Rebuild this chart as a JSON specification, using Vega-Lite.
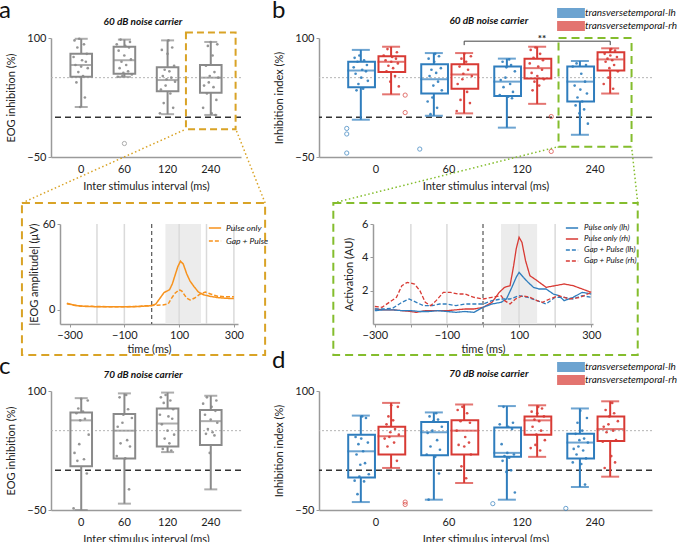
{
"$schema":"https://vega.github.io/schema/vega-lite/v6.json",
"background":"white",
"padding":{"left":-1,"top":-1,"right":0,"bottom":0},
"config":{"font":"Lato","view":{"stroke":null},
"axis":{"labelFont":"Lato","titleFont":"Lato","labelFontSize":11,"titleFontSize":11,"titleFontWeight":"normal","labelColor":"#222","titleColor":"#222","domainColor":"#9a9a9a","domainWidth":1.5,"tickColor":"#9a9a9a","tickSize":3,"grid":false},
"title":{"font":"Lato","fontSize":24,"fontWeight":"normal","anchor":"start","frame":"group","color":"#111"},
"legend":{"labelFont":"Lato","labelColor":"#111"},"text":{"font":"Lato"}},
"datasets":{
"boxA":[{"isi":"0","lo":13,"q1":51,"med":66,"q3":80,"hi":99},{"isi":"60","lo":51,"q1":55,"med":72,"q3":89,"hi":98},{"isi":"120","lo":4,"q1":33,"med":47,"q3":63,"hi":97},{"isi":"240","lo":3,"q1":31,"med":50,"q3":66,"hi":95}],
"outA":[{"isi":"60","v":-33}],
"ptsA":[{"isi":"0","k":7,"v":99},{"isi":"0","k":2,"v":97},{"isi":"0","k":12,"v":92},{"isi":"0","k":5,"v":88},{"isi":"0","k":15,"v":80},{"isi":"0","k":1,"v":76},{"isi":"0","k":10,"v":72},{"isi":"0","k":14,"v":70},{"isi":"0","k":3,"v":66},{"isi":"0","k":9,"v":64},{"isi":"0","k":16,"v":62},{"isi":"0","k":6,"v":57},{"isi":"0","k":11,"v":52},{"isi":"0","k":4,"v":44},{"isi":"0","k":13,"v":25},{"isi":"0","k":8,"v":13},
{"isi":"60","k":5,"v":98},{"isi":"60","k":15,"v":95},{"isi":"60","k":1,"v":92},{"isi":"60","k":10,"v":90},{"isi":"60","k":14,"v":88},{"isi":"60","k":3,"v":84},{"isi":"60","k":9,"v":78},{"isi":"60","k":16,"v":73},{"isi":"60","k":6,"v":70},{"isi":"60","k":11,"v":66},{"isi":"60","k":4,"v":62},{"isi":"60","k":13,"v":58},{"isi":"60","k":8,"v":56},{"isi":"60","k":17,"v":54},{"isi":"60","k":7,"v":52},{"isi":"60","k":2,"v":51},
{"isi":"120","k":10,"v":97},{"isi":"120","k":14,"v":88},{"isi":"120","k":3,"v":85},{"isi":"120","k":9,"v":80},{"isi":"120","k":16,"v":65},{"isi":"120","k":6,"v":60},{"isi":"120","k":11,"v":58},{"isi":"120","k":4,"v":52},{"isi":"120","k":13,"v":50},{"isi":"120","k":8,"v":48},{"isi":"120","k":17,"v":45},{"isi":"120","k":7,"v":40},{"isi":"120","k":2,"v":35},{"isi":"120","k":12,"v":30},{"isi":"120","k":5,"v":18},{"isi":"120","k":15,"v":12},{"isi":"120","k":1,"v":5},
{"isi":"240","k":9,"v":95},{"isi":"240","k":16,"v":92},{"isi":"240","k":6,"v":90},{"isi":"240","k":11,"v":78},{"isi":"240","k":4,"v":65},{"isi":"240","k":13,"v":57},{"isi":"240","k":8,"v":52},{"isi":"240","k":17,"v":50},{"isi":"240","k":7,"v":44},{"isi":"240","k":2,"v":40},{"isi":"240","k":12,"v":38},{"isi":"240","k":5,"v":30},{"isi":"240","k":15,"v":22},{"isi":"240","k":1,"v":12},{"isi":"240","k":10,"v":5},{"isi":"240","k":14,"v":3}],
"boxB":[{"isi":"0","hemi":"lh","lo":-3,"q1":38,"med":59,"q3":70,"hi":85},{"isi":"0","hemi":"rh","lo":29,"q1":57,"med":70,"q3":77,"hi":89},{"isi":"60","hemi":"lh","lo":2,"q1":30,"med":48,"q3":67,"hi":81},{"isi":"60","hemi":"rh","lo":5,"q1":36,"med":54,"q3":67,"hi":81},{"isi":"120","hemi":"lh","lo":-13,"q1":27,"med":45,"q3":64,"hi":74},{"isi":"120","hemi":"rh","lo":17,"q1":49,"med":62,"q3":74,"hi":89},{"isi":"240","hemi":"lh","lo":-22,"q1":20,"med":45,"q3":64,"hi":71},{"isi":"240","hemi":"rh","lo":30,"q1":59,"med":73,"q3":82,"hi":87}],
"outB":[{"isi":"0","hemi":"lh","v":-14},{"isi":"0","hemi":"lh","v":-21},{"isi":"0","hemi":"lh","v":-45},{"isi":"0","hemi":"rh","v":28},{"isi":"0","hemi":"rh","v":6},{"isi":"60","hemi":"lh","v":-40},{"isi":"120","hemi":"rh","v":1},{"isi":"120","hemi":"rh","v":-43}],
"ptsB":[{"isi":"0","hemi":"lh","k":7,"v":78},{"isi":"0","hemi":"lh","k":2,"v":75},{"isi":"0","hemi":"lh","k":12,"v":72},{"isi":"0","hemi":"lh","k":5,"v":70},{"isi":"0","hemi":"lh","k":15,"v":66},{"isi":"0","hemi":"lh","k":1,"v":63},{"isi":"0","hemi":"lh","k":10,"v":60},{"isi":"0","hemi":"lh","k":14,"v":58},{"isi":"0","hemi":"lh","k":3,"v":55},{"isi":"0","hemi":"lh","k":9,"v":50},{"isi":"0","hemi":"lh","k":16,"v":46},{"isi":"0","hemi":"lh","k":6,"v":42},{"isi":"0","hemi":"lh","k":11,"v":36},{"isi":"0","hemi":"lh","k":4,"v":34},
{"isi":"0","hemi":"rh","k":5,"v":86},{"isi":"0","hemi":"rh","k":15,"v":82},{"isi":"0","hemi":"rh","k":1,"v":78},{"isi":"0","hemi":"rh","k":10,"v":76},{"isi":"0","hemi":"rh","k":14,"v":74},{"isi":"0","hemi":"rh","k":3,"v":72},{"isi":"0","hemi":"rh","k":9,"v":70},{"isi":"0","hemi":"rh","k":16,"v":68},{"isi":"0","hemi":"rh","k":6,"v":65},{"isi":"0","hemi":"rh","k":11,"v":62},{"isi":"0","hemi":"rh","k":4,"v":58},{"isi":"0","hemi":"rh","k":13,"v":52},{"isi":"0","hemi":"rh","k":8,"v":45},{"isi":"0","hemi":"rh","k":17,"v":39},
{"isi":"60","hemi":"lh","k":10,"v":80},{"isi":"60","hemi":"lh","k":14,"v":77},{"isi":"60","hemi":"lh","k":3,"v":74},{"isi":"60","hemi":"lh","k":9,"v":70},{"isi":"60","hemi":"lh","k":16,"v":62},{"isi":"60","hemi":"lh","k":6,"v":60},{"isi":"60","hemi":"lh","k":11,"v":56},{"isi":"60","hemi":"lh","k":4,"v":52},{"isi":"60","hemi":"lh","k":13,"v":45},{"isi":"60","hemi":"lh","k":8,"v":40},{"isi":"60","hemi":"lh","k":17,"v":34},{"isi":"60","hemi":"lh","k":7,"v":25},{"isi":"60","hemi":"lh","k":2,"v":20},{"isi":"60","hemi":"lh","k":12,"v":12},{"isi":"60","hemi":"lh","k":5,"v":4},
{"isi":"60","hemi":"rh","k":9,"v":80},{"isi":"60","hemi":"rh","k":16,"v":77},{"isi":"60","hemi":"rh","k":6,"v":74},{"isi":"60","hemi":"rh","k":11,"v":70},{"isi":"60","hemi":"rh","k":4,"v":64},{"isi":"60","hemi":"rh","k":13,"v":60},{"isi":"60","hemi":"rh","k":8,"v":55},{"isi":"60","hemi":"rh","k":17,"v":52},{"isi":"60","hemi":"rh","k":7,"v":48},{"isi":"60","hemi":"rh","k":2,"v":42},{"isi":"60","hemi":"rh","k":12,"v":32},{"isi":"60","hemi":"rh","k":5,"v":22},{"isi":"60","hemi":"rh","k":15,"v":18},{"isi":"60","hemi":"rh","k":1,"v":8},
{"isi":"120","hemi":"lh","k":11,"v":73},{"isi":"120","hemi":"lh","k":4,"v":70},{"isi":"120","hemi":"lh","k":13,"v":66},{"isi":"120","hemi":"lh","k":8,"v":63},{"isi":"120","hemi":"lh","k":17,"v":58},{"isi":"120","hemi":"lh","k":7,"v":50},{"isi":"120","hemi":"lh","k":2,"v":47},{"isi":"120","hemi":"lh","k":12,"v":42},{"isi":"120","hemi":"lh","k":5,"v":38},{"isi":"120","hemi":"lh","k":15,"v":32},{"isi":"120","hemi":"lh","k":1,"v":28},{"isi":"120","hemi":"lh","k":10,"v":26},{"isi":"120","hemi":"lh","k":14,"v":24},
{"isi":"120","hemi":"rh","k":7,"v":88},{"isi":"120","hemi":"rh","k":2,"v":85},{"isi":"120","hemi":"rh","k":12,"v":80},{"isi":"120","hemi":"rh","k":5,"v":75},{"isi":"120","hemi":"rh","k":15,"v":72},{"isi":"120","hemi":"rh","k":1,"v":68},{"isi":"120","hemi":"rh","k":10,"v":64},{"isi":"120","hemi":"rh","k":14,"v":60},{"isi":"120","hemi":"rh","k":3,"v":56},{"isi":"120","hemi":"rh","k":9,"v":52},{"isi":"120","hemi":"rh","k":16,"v":48},{"isi":"120","hemi":"rh","k":6,"v":45},{"isi":"120","hemi":"rh","k":11,"v":40},{"isi":"120","hemi":"rh","k":4,"v":34},
{"isi":"240","hemi":"lh","k":5,"v":68},{"isi":"240","hemi":"lh","k":15,"v":66},{"isi":"240","hemi":"lh","k":1,"v":64},{"isi":"240","hemi":"lh","k":10,"v":55},{"isi":"240","hemi":"lh","k":14,"v":45},{"isi":"240","hemi":"lh","k":3,"v":40},{"isi":"240","hemi":"lh","k":9,"v":35},{"isi":"240","hemi":"lh","k":16,"v":30},{"isi":"240","hemi":"lh","k":6,"v":25},{"isi":"240","hemi":"lh","k":11,"v":20},{"isi":"240","hemi":"lh","k":4,"v":15},{"isi":"240","hemi":"lh","k":13,"v":10},{"isi":"240","hemi":"lh","k":8,"v":5},{"isi":"240","hemi":"lh","k":17,"v":-8},
{"isi":"240","hemi":"rh","k":10,"v":86},{"isi":"240","hemi":"rh","k":14,"v":84},{"isi":"240","hemi":"rh","k":3,"v":80},{"isi":"240","hemi":"rh","k":9,"v":78},{"isi":"240","hemi":"rh","k":16,"v":76},{"isi":"240","hemi":"rh","k":6,"v":74},{"isi":"240","hemi":"rh","k":11,"v":72},{"isi":"240","hemi":"rh","k":4,"v":70},{"isi":"240","hemi":"rh","k":13,"v":66},{"isi":"240","hemi":"rh","k":8,"v":62},{"isi":"240","hemi":"rh","k":17,"v":58},{"isi":"240","hemi":"rh","k":7,"v":50},{"isi":"240","hemi":"rh","k":2,"v":42},{"isi":"240","hemi":"rh","k":12,"v":36}],
"boxC":[{"isi":"0","lo":-50,"q1":5,"med":63,"q3":73,"hi":91},{"isi":"60","lo":-42,"q1":15,"med":50,"q3":71,"hi":97},{"isi":"120","lo":23,"q1":30,"med":59,"q3":78,"hi":98},{"isi":"240","lo":-24,"q1":32,"med":62,"q3":76,"hi":94}],
"ptsC":[{"isi":"0","k":9,"v":90},{"isi":"0","k":16,"v":88},{"isi":"0","k":6,"v":78},{"isi":"0","k":11,"v":74},{"isi":"0","k":4,"v":72},{"isi":"0","k":13,"v":65},{"isi":"0","k":8,"v":63},{"isi":"0","k":17,"v":45},{"isi":"0","k":7,"v":33},{"isi":"0","k":2,"v":22},{"isi":"0","k":12,"v":14},{"isi":"0","k":5,"v":12},{"isi":"0","k":15,"v":-4},{"isi":"0","k":1,"v":-48},
{"isi":"60","k":11,"v":95},{"isi":"60","k":4,"v":92},{"isi":"60","k":13,"v":77},{"isi":"60","k":8,"v":70},{"isi":"60","k":17,"v":66},{"isi":"60","k":7,"v":60},{"isi":"60","k":2,"v":55},{"isi":"60","k":12,"v":38},{"isi":"60","k":5,"v":34},{"isi":"60","k":15,"v":30},{"isi":"60","k":1,"v":18},{"isi":"60","k":10,"v":15},{"isi":"60","k":14,"v":-24},
{"isi":"120","k":7,"v":95},{"isi":"120","k":2,"v":92},{"isi":"120","k":12,"v":88},{"isi":"120","k":5,"v":85},{"isi":"120","k":15,"v":77},{"isi":"120","k":1,"v":70},{"isi":"120","k":10,"v":68},{"isi":"120","k":14,"v":65},{"isi":"120","k":3,"v":58},{"isi":"120","k":9,"v":50},{"isi":"120","k":16,"v":45},{"isi":"120","k":6,"v":40},{"isi":"120","k":11,"v":34},{"isi":"120","k":4,"v":27},{"isi":"120","k":13,"v":25},
{"isi":"240","k":5,"v":92},{"isi":"240","k":15,"v":88},{"isi":"240","k":1,"v":84},{"isi":"240","k":10,"v":80},{"isi":"240","k":14,"v":75},{"isi":"240","k":3,"v":70},{"isi":"240","k":9,"v":64},{"isi":"240","k":16,"v":60},{"isi":"240","k":6,"v":52},{"isi":"240","k":11,"v":48},{"isi":"240","k":4,"v":46},{"isi":"240","k":13,"v":44},{"isi":"240","k":8,"v":22}],
"boxD":[{"isi":"0","hemi":"lh","lo":-40,"q1":-9,"med":24,"q3":45,"hi":69},{"isi":"0","hemi":"rh","lo":3,"q1":20,"med":43,"q3":55,"hi":85},{"isi":"60","hemi":"lh","lo":-37,"q1":19,"med":48,"q3":61,"hi":73},{"isi":"60","hemi":"rh","lo":-16,"q1":20,"med":50,"q3":63,"hi":83},{"isi":"120","hemi":"lh","lo":-37,"q1":17,"med":22,"q3":54,"hi":81},{"isi":"120","hemi":"rh","lo":17,"q1":45,"med":63,"q3":68,"hi":82},{"isi":"240","hemi":"lh","lo":-21,"q1":15,"med":35,"q3":46,"hi":78},{"isi":"240","hemi":"rh","lo":-8,"q1":37,"med":52,"q3":68,"hi":87}],
"outD":[{"isi":"0","hemi":"rh","v":-40},{"isi":"0","hemi":"rh","v":-43},{"isi":"120","hemi":"lh","v":-42},{"isi":"240","hemi":"lh","v":-48}],
"ptsD":[{"isi":"0","hemi":"lh","k":10,"v":68},{"isi":"0","hemi":"lh","k":14,"v":66},{"isi":"0","hemi":"lh","k":3,"v":42},{"isi":"0","hemi":"lh","k":9,"v":40},{"isi":"0","hemi":"lh","k":16,"v":35},{"isi":"0","hemi":"lh","k":6,"v":33},{"isi":"0","hemi":"lh","k":11,"v":24},{"isi":"0","hemi":"lh","k":4,"v":20},{"isi":"0","hemi":"lh","k":13,"v":9},{"isi":"0","hemi":"lh","k":8,"v":7},{"isi":"0","hemi":"lh","k":17,"v":-5},{"isi":"0","hemi":"lh","k":7,"v":-8},{"isi":"0","hemi":"lh","k":2,"v":-13},{"isi":"0","hemi":"lh","k":12,"v":-14},{"isi":"0","hemi":"lh","k":5,"v":-30},
{"isi":"0","hemi":"rh","k":9,"v":82},{"isi":"0","hemi":"rh","k":16,"v":80},{"isi":"0","hemi":"rh","k":6,"v":68},{"isi":"0","hemi":"rh","k":11,"v":63},{"isi":"0","hemi":"rh","k":4,"v":58},{"isi":"0","hemi":"rh","k":13,"v":52},{"isi":"0","hemi":"rh","k":8,"v":48},{"isi":"0","hemi":"rh","k":17,"v":45},{"isi":"0","hemi":"rh","k":7,"v":42},{"isi":"0","hemi":"rh","k":2,"v":40},{"isi":"0","hemi":"rh","k":12,"v":35},{"isi":"0","hemi":"rh","k":5,"v":30},{"isi":"0","hemi":"rh","k":15,"v":12},
{"isi":"60","hemi":"lh","k":11,"v":72},{"isi":"60","hemi":"lh","k":4,"v":68},{"isi":"60","hemi":"lh","k":13,"v":64},{"isi":"60","hemi":"lh","k":8,"v":62},{"isi":"60","hemi":"lh","k":17,"v":55},{"isi":"60","hemi":"lh","k":7,"v":50},{"isi":"60","hemi":"lh","k":2,"v":47},{"isi":"60","hemi":"lh","k":12,"v":38},{"isi":"60","hemi":"lh","k":5,"v":30},{"isi":"60","hemi":"lh","k":15,"v":26},{"isi":"60","hemi":"lh","k":1,"v":20},{"isi":"60","hemi":"lh","k":10,"v":17},{"isi":"60","hemi":"lh","k":14,"v":-4},{"isi":"60","hemi":"lh","k":3,"v":-37},
{"isi":"60","hemi":"rh","k":7,"v":80},{"isi":"60","hemi":"rh","k":2,"v":76},{"isi":"60","hemi":"rh","k":12,"v":72},{"isi":"60","hemi":"rh","k":5,"v":62},{"isi":"60","hemi":"rh","k":15,"v":60},{"isi":"60","hemi":"rh","k":1,"v":50},{"isi":"60","hemi":"rh","k":10,"v":42},{"isi":"60","hemi":"rh","k":14,"v":35},{"isi":"60","hemi":"rh","k":3,"v":32},{"isi":"60","hemi":"rh","k":9,"v":30},{"isi":"60","hemi":"rh","k":16,"v":20},{"isi":"60","hemi":"rh","k":6,"v":5},{"isi":"60","hemi":"rh","k":11,"v":-10},
{"isi":"120","hemi":"lh","k":5,"v":80},{"isi":"120","hemi":"lh","k":15,"v":60},{"isi":"120","hemi":"lh","k":1,"v":58},{"isi":"120","hemi":"lh","k":10,"v":55},{"isi":"120","hemi":"lh","k":14,"v":52},{"isi":"120","hemi":"lh","k":3,"v":33},{"isi":"120","hemi":"lh","k":9,"v":22},{"isi":"120","hemi":"lh","k":16,"v":20},{"isi":"120","hemi":"lh","k":6,"v":18},{"isi":"120","hemi":"lh","k":11,"v":16},{"isi":"120","hemi":"lh","k":4,"v":12},{"isi":"120","hemi":"lh","k":13,"v":0},{"isi":"120","hemi":"lh","k":8,"v":-2},{"isi":"120","hemi":"lh","k":17,"v":-28},
{"isi":"120","hemi":"rh","k":10,"v":80},{"isi":"120","hemi":"rh","k":14,"v":78},{"isi":"120","hemi":"rh","k":3,"v":74},{"isi":"120","hemi":"rh","k":9,"v":72},{"isi":"120","hemi":"rh","k":16,"v":68},{"isi":"120","hemi":"rh","k":6,"v":64},{"isi":"120","hemi":"rh","k":11,"v":62},{"isi":"120","hemi":"rh","k":4,"v":55},{"isi":"120","hemi":"rh","k":13,"v":50},{"isi":"120","hemi":"rh","k":8,"v":45},{"isi":"120","hemi":"rh","k":17,"v":38},{"isi":"120","hemi":"rh","k":7,"v":32},{"isi":"120","hemi":"rh","k":2,"v":28},{"isi":"120","hemi":"rh","k":12,"v":25},
{"isi":"240","hemi":"lh","k":9,"v":75},{"isi":"240","hemi":"lh","k":16,"v":66},{"isi":"240","hemi":"lh","k":6,"v":60},{"isi":"240","hemi":"lh","k":11,"v":50},{"isi":"240","hemi":"lh","k":4,"v":46},{"isi":"240","hemi":"lh","k":13,"v":40},{"isi":"240","hemi":"lh","k":8,"v":38},{"isi":"240","hemi":"lh","k":17,"v":35},{"isi":"240","hemi":"lh","k":7,"v":30},{"isi":"240","hemi":"lh","k":2,"v":27},{"isi":"240","hemi":"lh","k":12,"v":25},{"isi":"240","hemi":"lh","k":5,"v":20},{"isi":"240","hemi":"lh","k":15,"v":15},{"isi":"240","hemi":"lh","k":1,"v":10},{"isi":"240","hemi":"lh","k":10,"v":8},{"isi":"240","hemi":"lh","k":14,"v":-18},
{"isi":"240","hemi":"rh","k":11,"v":85},{"isi":"240","hemi":"rh","k":4,"v":76},{"isi":"240","hemi":"rh","k":13,"v":72},{"isi":"240","hemi":"rh","k":8,"v":68},{"isi":"240","hemi":"rh","k":17,"v":62},{"isi":"240","hemi":"rh","k":7,"v":58},{"isi":"240","hemi":"rh","k":2,"v":55},{"isi":"240","hemi":"rh","k":12,"v":50},{"isi":"240","hemi":"rh","k":5,"v":48},{"isi":"240","hemi":"rh","k":15,"v":38},{"isi":"240","hemi":"rh","k":1,"v":36},{"isi":"240","hemi":"rh","k":10,"v":18},{"isi":"240","hemi":"rh","k":14,"v":10},{"isi":"240","hemi":"rh","k":3,"v":3}],
"insA":[{"c":"Pulse only","t":-310,"v":4.5},{"c":"Pulse only","t":-290,"v":3.5},{"c":"Pulse only","t":-270,"v":2.8},{"c":"Pulse only","t":-240,"v":2.3},{"c":"Pulse only","t":-200,"v":2.1},{"c":"Pulse only","t":-150,"v":2},{"c":"Pulse only","t":-100,"v":2},{"c":"Pulse only","t":-50,"v":2.2},{"c":"Pulse only","t":-20,"v":2.6},{"c":"Pulse only","t":0,"v":2.8},{"c":"Pulse only","t":15,"v":4},{"c":"Pulse only","t":30,"v":8},{"c":"Pulse only","t":45,"v":12},{"c":"Pulse only","t":55,"v":13},{"c":"Pulse only","t":65,"v":14},{"c":"Pulse only","t":75,"v":18},{"c":"Pulse only","t":85,"v":24},{"c":"Pulse only","t":95,"v":30},{"c":"Pulse only","t":105,"v":34},{"c":"Pulse only","t":115,"v":32},{"c":"Pulse only","t":128,"v":25},{"c":"Pulse only","t":140,"v":20},{"c":"Pulse only","t":155,"v":16},{"c":"Pulse only","t":170,"v":12.5},{"c":"Pulse only","t":190,"v":10.4},{"c":"Pulse only","t":210,"v":9.5},{"c":"Pulse only","t":240,"v":8.5},{"c":"Pulse only","t":270,"v":8},{"c":"Pulse only","t":300,"v":7.8},
{"c":"Gap + Pulse","t":-310,"v":4.2},{"c":"Gap + Pulse","t":-290,"v":3.3},{"c":"Gap + Pulse","t":-270,"v":2.6},{"c":"Gap + Pulse","t":-240,"v":2.4},{"c":"Gap + Pulse","t":-200,"v":2.3},{"c":"Gap + Pulse","t":-150,"v":2.1},{"c":"Gap + Pulse","t":-100,"v":2.1},{"c":"Gap + Pulse","t":-50,"v":2.3},{"c":"Gap + Pulse","t":-20,"v":2.7},{"c":"Gap + Pulse","t":0,"v":3},{"c":"Gap + Pulse","t":20,"v":3.2},{"c":"Gap + Pulse","t":40,"v":3.3},{"c":"Gap + Pulse","t":60,"v":4},{"c":"Gap + Pulse","t":72,"v":8},{"c":"Gap + Pulse","t":85,"v":11.5},{"c":"Gap + Pulse","t":100,"v":14},{"c":"Gap + Pulse","t":110,"v":13},{"c":"Gap + Pulse","t":128,"v":8},{"c":"Gap + Pulse","t":140,"v":6.8},{"c":"Gap + Pulse","t":155,"v":8},{"c":"Gap + Pulse","t":177,"v":11},{"c":"Gap + Pulse","t":196,"v":12.3},{"c":"Gap + Pulse","t":215,"v":11},{"c":"Gap + Pulse","t":240,"v":9.5},{"c":"Gap + Pulse","t":270,"v":9},{"c":"Gap + Pulse","t":300,"v":9}],
"insB":[{"c":"Pulse only (rh)","t":-300,"v":0.9},{"c":"Pulse only (rh)","t":-275,"v":0.85},{"c":"Pulse only (rh)","t":-250,"v":0.85},{"c":"Pulse only (rh)","t":-225,"v":0.8},{"c":"Pulse only (rh)","t":-200,"v":0.75},{"c":"Pulse only (rh)","t":-185,"v":0.7},{"c":"Pulse only (rh)","t":-160,"v":0.8},{"c":"Pulse only (rh)","t":-125,"v":0.8},{"c":"Pulse only (rh)","t":-100,"v":0.8},{"c":"Pulse only (rh)","t":-75,"v":0.85},{"c":"Pulse only (rh)","t":-50,"v":0.9},{"c":"Pulse only (rh)","t":-25,"v":0.9},{"c":"Pulse only (rh)","t":0,"v":1.0},{"c":"Pulse only (rh)","t":25,"v":1.3},{"c":"Pulse only (rh)","t":45,"v":1.9},{"c":"Pulse only (rh)","t":60,"v":2.2},{"c":"Pulse only (rh)","t":75,"v":2.3},{"c":"Pulse only (rh)","t":85,"v":3.5},{"c":"Pulse only (rh)","t":92,"v":4.5},{"c":"Pulse only (rh)","t":100,"v":5.2},{"c":"Pulse only (rh)","t":108,"v":4.9},{"c":"Pulse only (rh)","t":118,"v":3.8},{"c":"Pulse only (rh)","t":130,"v":2.9},{"c":"Pulse only (rh)","t":150,"v":2.6},{"c":"Pulse only (rh)","t":175,"v":2.2},{"c":"Pulse only (rh)","t":200,"v":2.3},{"c":"Pulse only (rh)","t":225,"v":2.4},{"c":"Pulse only (rh)","t":250,"v":2.3},{"c":"Pulse only (rh)","t":275,"v":2.1},{"c":"Pulse only (rh)","t":300,"v":1.9},
{"c":"Pulse only (lh)","t":-300,"v":0.8},{"c":"Pulse only (lh)","t":-275,"v":0.85},{"c":"Pulse only (lh)","t":-250,"v":0.85},{"c":"Pulse only (lh)","t":-225,"v":0.8},{"c":"Pulse only (lh)","t":-200,"v":0.8},{"c":"Pulse only (lh)","t":-175,"v":0.75},{"c":"Pulse only (lh)","t":-150,"v":0.75},{"c":"Pulse only (lh)","t":-125,"v":0.8},{"c":"Pulse only (lh)","t":-100,"v":0.75},{"c":"Pulse only (lh)","t":-75,"v":0.7},{"c":"Pulse only (lh)","t":-50,"v":0.75},{"c":"Pulse only (lh)","t":-25,"v":0.7},{"c":"Pulse only (lh)","t":0,"v":1.0},{"c":"Pulse only (lh)","t":25,"v":1.2},{"c":"Pulse only (lh)","t":50,"v":1.3},{"c":"Pulse only (lh)","t":65,"v":1.5},{"c":"Pulse only (lh)","t":80,"v":2.2},{"c":"Pulse only (lh)","t":92,"v":2.8},{"c":"Pulse only (lh)","t":100,"v":3.1},{"c":"Pulse only (lh)","t":112,"v":2.8},{"c":"Pulse only (lh)","t":125,"v":2.5},{"c":"Pulse only (lh)","t":140,"v":2.2},{"c":"Pulse only (lh)","t":155,"v":2.1},{"c":"Pulse only (lh)","t":175,"v":2.1},{"c":"Pulse only (lh)","t":195,"v":1.8},{"c":"Pulse only (lh)","t":210,"v":1.7},{"c":"Pulse only (lh)","t":225,"v":1.4},{"c":"Pulse only (lh)","t":250,"v":1.6},{"c":"Pulse only (lh)","t":275,"v":1.9},{"c":"Pulse only (lh)","t":300,"v":1.8},
{"c":"Gap + Pulse (lh)","t":-300,"v":0.9},{"c":"Gap + Pulse (lh)","t":-275,"v":0.9},{"c":"Gap + Pulse (lh)","t":-250,"v":0.95},{"c":"Gap + Pulse (lh)","t":-225,"v":1.3},{"c":"Gap + Pulse (lh)","t":-205,"v":1.5},{"c":"Gap + Pulse (lh)","t":-185,"v":1.3},{"c":"Gap + Pulse (lh)","t":-165,"v":1.1},{"c":"Gap + Pulse (lh)","t":-140,"v":1.1},{"c":"Gap + Pulse (lh)","t":-120,"v":1.2},{"c":"Gap + Pulse (lh)","t":-100,"v":1.2},{"c":"Gap + Pulse (lh)","t":-75,"v":1.1},{"c":"Gap + Pulse (lh)","t":-50,"v":1.2},{"c":"Gap + Pulse (lh)","t":-25,"v":1.2},{"c":"Gap + Pulse (lh)","t":0,"v":1.2},{"c":"Gap + Pulse (lh)","t":25,"v":1.4},{"c":"Gap + Pulse (lh)","t":50,"v":1.5},{"c":"Gap + Pulse (lh)","t":75,"v":1.5},{"c":"Gap + Pulse (lh)","t":100,"v":1.7},{"c":"Gap + Pulse (lh)","t":125,"v":1.6},{"c":"Gap + Pulse (lh)","t":150,"v":1.4},{"c":"Gap + Pulse (lh)","t":175,"v":1.2},{"c":"Gap + Pulse (lh)","t":200,"v":1.6},{"c":"Gap + Pulse (lh)","t":225,"v":1.6},{"c":"Gap + Pulse (lh)","t":250,"v":1.5},{"c":"Gap + Pulse (lh)","t":275,"v":1.7},{"c":"Gap + Pulse (lh)","t":300,"v":1.6},
{"c":"Gap + Pulse (rh)","t":-300,"v":1.05},{"c":"Gap + Pulse (rh)","t":-280,"v":1.0},{"c":"Gap + Pulse (rh)","t":-260,"v":1.3},{"c":"Gap + Pulse (rh)","t":-240,"v":1.6},{"c":"Gap + Pulse (rh)","t":-225,"v":2.3},{"c":"Gap + Pulse (rh)","t":-210,"v":2.5},{"c":"Gap + Pulse (rh)","t":-190,"v":2.4},{"c":"Gap + Pulse (rh)","t":-175,"v":2.0},{"c":"Gap + Pulse (rh)","t":-160,"v":1.3},{"c":"Gap + Pulse (rh)","t":-145,"v":1.1},{"c":"Gap + Pulse (rh)","t":-130,"v":1.4},{"c":"Gap + Pulse (rh)","t":-110,"v":1.9},{"c":"Gap + Pulse (rh)","t":-90,"v":1.9},{"c":"Gap + Pulse (rh)","t":-70,"v":1.8},{"c":"Gap + Pulse (rh)","t":-50,"v":1.8},{"c":"Gap + Pulse (rh)","t":-25,"v":1.6},{"c":"Gap + Pulse (rh)","t":0,"v":1.5},{"c":"Gap + Pulse (rh)","t":25,"v":1.6},{"c":"Gap + Pulse (rh)","t":50,"v":1.7},{"c":"Gap + Pulse (rh)","t":60,"v":1.4},{"c":"Gap + Pulse (rh)","t":75,"v":1.2},{"c":"Gap + Pulse (rh)","t":90,"v":1.5},{"c":"Gap + Pulse (rh)","t":110,"v":1.7},{"c":"Gap + Pulse (rh)","t":130,"v":1.6},{"c":"Gap + Pulse (rh)","t":150,"v":1.4},{"c":"Gap + Pulse (rh)","t":165,"v":1.3},{"c":"Gap + Pulse (rh)","t":185,"v":1.5},{"c":"Gap + Pulse (rh)","t":210,"v":1.7},{"c":"Gap + Pulse (rh)","t":240,"v":1.5},{"c":"Gap + Pulse (rh)","t":270,"v":1.6},{"c":"Gap + Pulse (rh)","t":300,"v":1.9}],
"bracket":[{"isi":"60","o":1,"y":91},{"isi":"60","o":2,"y":96},{"isi":"240","o":3,"y":96},{"isi":"240","o":4,"y":91}]
},
"columns":2,
"spacing":{"row":67,"column":78},
"bounds":"flush",
"align":"each",
"resolve":{"scale":{"color":"independent","stroke":"independent","strokeDash":"independent"},"legend":{"color":"independent","stroke":"independent","strokeDash":"independent"}},
"concat":[
{"width":190,"height":119,"title":{"text":"a","dx":-52,"offset":-6},
"resolve":{"scale":{"xOffset":"independent"}},
"layer":[
{"data":{"values":[{}]},"mark":{"type":"rule","color":"#b5b5b5","strokeDash":[2,2],"strokeWidth":1},"encoding":{"y":{"datum":50,"type":"quantitative","scale":{"domain":[-50,100],"nice":false,"zero":false},"axis":{"values":[-50,0,50,100],"title":"EOG inhibition (%)","titlePadding":10}}}},
{"data":{"values":[{}]},"mark":{"type":"rule","color":"#333","strokeDash":[6,4],"strokeWidth":1.5},"encoding":{"y":{"datum":0,"type":"quantitative"}}},
{"data":{"name":"boxA"},"mark":{"type":"bar","filled":false,"color":"#8a8a8a","strokeWidth":2,"width":{"band":0.5}},"encoding":{"x":{"field":"isi","type":"nominal","scale":{"type":"band","domain":["0","60","120","240"],"paddingInner":0,"paddingOuter":0.2},"axis":{"title":"Inter stimulus interval (ms)","labelAngle":0,"ticks":false,"labelPadding":6,"titlePadding":6}},"y":{"field":"q1","type":"quantitative"},"y2":{"field":"q3"}}},
{"data":{"name":"boxA"},"mark":{"type":"rule","color":"#8a8a8a","strokeWidth":2},"encoding":{"x":{"field":"isi","type":"nominal"},"y":{"field":"lo","type":"quantitative"},"y2":{"field":"q1"}}},
{"data":{"name":"boxA"},"mark":{"type":"rule","color":"#8a8a8a","strokeWidth":2},"encoding":{"x":{"field":"isi","type":"nominal"},"y":{"field":"q3","type":"quantitative"},"y2":{"field":"hi"}}},
{"data":{"name":"boxA"},"mark":{"type":"tick","color":"#8a8a8a","thickness":2,"size":13},"encoding":{"x":{"field":"isi","type":"nominal"},"y":{"field":"lo","type":"quantitative"}}},
{"data":{"name":"boxA"},"mark":{"type":"tick","color":"#8a8a8a","thickness":2,"size":13},"encoding":{"x":{"field":"isi","type":"nominal"},"y":{"field":"hi","type":"quantitative"}}},
{"data":{"name":"boxA"},"mark":{"type":"tick","color":"#8a8a8a","thickness":2,"size":22},"encoding":{"x":{"field":"isi","type":"nominal"},"y":{"field":"med","type":"quantitative"}}},
{"data":{"name":"ptsA"},"mark":{"type":"circle","size":7,"color":"#8a8a8a","opacity":0.9},"encoding":{"x":{"field":"isi","type":"nominal"},"xOffset":{"field":"k","type":"quantitative","scale":{"domain":[0,18],"range":[13,30]}},"y":{"field":"v","type":"quantitative"}}},
{"data":{"name":"outA"},"mark":{"type":"point","shape":"circle","filled":false,"size":18,"strokeWidth":1,"color":"#8a8a8a"},"encoding":{"x":{"field":"isi","type":"nominal"},"y":{"field":"v","type":"quantitative"}}},
{"data":{"values":[{}]},"mark":{"type":"text","text":"60 dB noise carrier","fontStyle":"italic","fontWeight":"bold","fontSize":10,"dx":-3,"color":"#111"},"encoding":{"x":{"datum":"120","type":"nominal","bandPosition":0},"y":{"datum":120,"type":"quantitative"}}},
{"data":{"values":[{}]},"mark":{"type":"bar","filled":false,"color":"#d9a326","strokeWidth":2,"strokeDash":[7,4],"width":{"band":1.15}},"encoding":{"x":{"datum":"240","type":"nominal"},"y":{"datum":-15,"type":"quantitative"},"y2":{"datum":107}}}
]},
{"width":333,"height":119,"title":{"text":"b","dx":-47,"offset":-15},
"resolve":{"scale":{"xOffset":"independent"}},
"layer":[
{"data":{"values":[{}]},"mark":{"type":"rule","color":"#b5b5b5","strokeDash":[2,2],"strokeWidth":1},"encoding":{"y":{"datum":50,"type":"quantitative","scale":{"domain":[-50,100],"nice":false,"zero":false},"axis":{"values":[-50,0,50,100],"title":"Inhibition index (%)","titlePadding":10}}}},
{"data":{"values":[{}]},"mark":{"type":"rule","color":"#333","strokeDash":[6,4],"strokeWidth":1.5},"encoding":{"y":{"datum":0,"type":"quantitative"}}},
{"data":{"name":"boxB"},"mark":{"type":"rule","strokeWidth":2},"encoding":{"x":{"field":"isi","type":"nominal","scale":{"type":"band","domain":["0","60","120","240"],"paddingInner":0.2,"paddingOuter":0.38},"axis":{"title":"Inter stimulus interval (ms)","labelAngle":0,"ticks":false,"labelPadding":6,"titlePadding":6}},"xOffset":{"field":"hemi","type":"nominal","scale":{"domain":["lh","rh"],"paddingInner":0.07,"paddingOuter":0}},"y":{"field":"lo","type":"quantitative"},"y2":{"field":"q1"},"color":{"field":"hemi","type":"nominal","scale":{"domain":["lh","rh"],"range":["#2f7dbd","#d83a34"]},"legend":{"orient":"none","legendX":247,"legendY":-30,"title":null,"symbolType":"M-13,-4H13V4H-13Z","symbolSize":4,"symbolStrokeWidth":1.8,"symbolFillColor":"white","labelFontStyle":"italic","labelFontSize":10,"rowPadding":-6,"labelOffset":9,"padding":0,"labelLimit":200,"labelExpr":"'transversetemporal-' + datum.label"}}}},
{"data":{"name":"boxB"},"mark":{"type":"bar","filled":false,"strokeWidth":2,"width":{"band":0.95}},"encoding":{"x":{"field":"isi","type":"nominal"},"xOffset":{"field":"hemi","type":"nominal","scale":{"domain":["lh","rh"],"paddingInner":0.07,"paddingOuter":0}},"y":{"field":"q1","type":"quantitative"},"y2":{"field":"q3"},"stroke":{"field":"hemi","type":"nominal","scale":{"domain":["lh","rh"],"range":["#2f7dbd","#d83a34"]},"legend":null}}},
{"data":{"name":"boxB"},"mark":{"type":"rule","strokeWidth":2},"encoding":{"x":{"field":"isi","type":"nominal"},"xOffset":{"field":"hemi","type":"nominal","scale":{"domain":["lh","rh"],"paddingInner":0.07,"paddingOuter":0}},"y":{"field":"q3","type":"quantitative"},"y2":{"field":"hi"},"color":{"field":"hemi","type":"nominal"}}},
{"data":{"name":"boxB"},"mark":{"type":"tick","thickness":2,"size":18},"encoding":{"x":{"field":"isi","type":"nominal"},"xOffset":{"field":"hemi","type":"nominal","scale":{"domain":["lh","rh"],"paddingInner":0.07,"paddingOuter":0}},"y":{"field":"lo","type":"quantitative"},"color":{"field":"hemi","type":"nominal"}}},
{"data":{"name":"boxB"},"mark":{"type":"tick","thickness":2,"size":18},"encoding":{"x":{"field":"isi","type":"nominal"},"xOffset":{"field":"hemi","type":"nominal","scale":{"domain":["lh","rh"],"paddingInner":0.07,"paddingOuter":0}},"y":{"field":"hi","type":"quantitative"},"color":{"field":"hemi","type":"nominal"}}},
{"data":{"name":"boxB"},"mark":{"type":"tick","thickness":2,"size":27},"encoding":{"x":{"field":"isi","type":"nominal"},"xOffset":{"field":"hemi","type":"nominal","scale":{"domain":["lh","rh"],"paddingInner":0.07,"paddingOuter":0}},"y":{"field":"med","type":"quantitative"},"color":{"field":"hemi","type":"nominal"}}},
{"data":{"name":"ptsB"},"transform":[{"filter":"datum.hemi == 'lh'"}],"mark":{"type":"circle","size":7,"opacity":0.9},"encoding":{"x":{"field":"isi","type":"nominal"},"xOffset":{"field":"k","type":"quantitative","scale":{"domain":[0,18],"range":[6,23]}},"y":{"field":"v","type":"quantitative"},"color":{"field":"hemi","type":"nominal"}}},
{"data":{"name":"ptsB"},"transform":[{"filter":"datum.hemi == 'rh'"}],"mark":{"type":"circle","size":7,"opacity":0.9},"encoding":{"x":{"field":"isi","type":"nominal"},"xOffset":{"field":"k","type":"quantitative","scale":{"domain":[0,18],"range":[36,53]}},"y":{"field":"v","type":"quantitative"},"color":{"field":"hemi","type":"nominal"}}},
{"data":{"name":"outB"},"mark":{"type":"point","shape":"circle","filled":false,"size":18,"strokeWidth":1},"encoding":{"x":{"field":"isi","type":"nominal"},"xOffset":{"field":"hemi","type":"nominal","scale":{"domain":["lh","rh"],"paddingInner":0.07,"paddingOuter":0}},"y":{"field":"v","type":"quantitative"},"color":{"field":"hemi","type":"nominal"}}},
{"data":{"values":[{}]},"mark":{"type":"text","text":"60 dB noise carrier","fontStyle":"italic","fontWeight":"bold","fontSize":10,"dx":-4,"color":"#111"},"encoding":{"x":{"datum":"120","type":"nominal","bandPosition":0},"y":{"datum":121,"type":"quantitative"}}},
{"data":{"name":"bracket"},"mark":{"type":"line","color":"#444","strokeWidth":1},"encoding":{"x":{"field":"isi","type":"nominal","bandPosition":0.76},"y":{"field":"y","type":"quantitative"},"order":{"field":"o","type":"quantitative"}}},
{"data":{"values":[{}]},"mark":{"type":"text","text":"**","fontWeight":"bold","fontSize":10,"color":"#222"},"encoding":{"x":{"datum":"120","type":"nominal","bandPosition":0.84},"y":{"datum":99,"type":"quantitative"}}},
{"data":{"values":[{}]},"mark":{"type":"bar","filled":false,"color":"#84bd2d","strokeWidth":2,"strokeDash":[8,5],"width":{"band":1.25}},"encoding":{"x":{"datum":"240","type":"nominal"},"y":{"datum":-37,"type":"quantitative"},"y2":{"datum":100}}}
]},
{"width":187,"height":100,
"layer":[
{"data":{"values":[{}]},"mark":{"type":"rect","color":"#ececec"},"encoding":{"x":{"datum":50,"type":"quantitative","scale":{"domain":[-335,315],"range":[9,187],"nice":false,"zero":false},"axis":{"values":[-300,-200,-100,0,100,200,300],"labelExpr":"datum.value % 200 == 0 ? '' : datum.label","title":"time (ms)","labelPadding":2,"titlePadding":3}},"x2":{"datum":180},"y":{"datum":-10,"type":"quantitative","scale":{"domain":[-10,60],"nice":false,"zero":false},"axis":{"values":[0,20,40,60],"title":"|EOG amplitude| (μV)","titlePadding":3,"offset":-9}},"y2":{"datum":60}}},
{"data":{"values":[{"t":-200},{"t":-100},{"t":100},{"t":200},{"t":300}]},"mark":{"type":"rule","color":"#dadada","strokeWidth":1.5},"encoding":{"x":{"field":"t","type":"quantitative"}}},
{"data":{"values":[{}]},"mark":{"type":"rule","color":"#333","strokeDash":[4,3],"strokeWidth":1},"encoding":{"x":{"datum":0,"type":"quantitative"}}},
{"data":{"name":"insA"},"mark":{"type":"line","color":"#f7931e","strokeWidth":1.5},"encoding":{"x":{"field":"t","type":"quantitative"},"y":{"field":"v","type":"quantitative"},"strokeDash":{"field":"c","type":"nominal","scale":{"domain":["Pulse only","Gap + Pulse"],"range":[[1,0],[4,2]]},"legend":{"orient":"none","legendX":157,"legendY":-3,"title":null,"symbolType":"stroke","symbolStrokeColor":"#f7931e","symbolSize":150,"symbolStrokeWidth":1.5,"labelFontSize":8.5,"labelFontStyle":"italic","rowPadding":1,"labelOffset":4,"padding":0}}}},
{"data":{"values":[{}]},"mark":{"type":"rect","filled":false,"color":"#d9a326","strokeWidth":2,"strokeDash":[8,5]},"encoding":{"x":{"datum":-474,"type":"quantitative"},"x2":{"datum":414},"y":{"datum":-31.7,"type":"quantitative"},"y2":{"datum":74.7}}},
{"data":{"values":[{}]},"mark":{"type":"rule","color":"#d9a326","strokeWidth":1.5,"strokeDash":[1.5,2.5]},"encoding":{"x":{"datum":-474,"type":"quantitative"},"x2":{"datum":125},"y":{"datum":74.7,"type":"quantitative"},"y2":{"datum":126.4}}},
{"data":{"values":[{}]},"mark":{"type":"rule","color":"#d9a326","strokeWidth":1.5,"strokeDash":[1.5,2.5]},"encoding":{"x":{"datum":414,"type":"quantitative"},"x2":{"datum":307},"y":{"datum":74.7,"type":"quantitative"},"y2":{"datum":126.4}}}
]},
{"width":274,"height":100,
"layer":[
{"data":{"values":[{}]},"mark":{"type":"rect","color":"#ececec"},"encoding":{"x":{"datum":50,"type":"quantitative","scale":{"domain":[-305,305],"range":[54,274],"nice":false,"zero":false},"axis":{"values":[-300,-200,-100,0,100,200,300],"labelExpr":"datum.value % 200 == 0 ? '' : datum.label","title":"time (ms)","labelPadding":2,"titlePadding":3}},"x2":{"datum":150},"y":{"datum":0,"type":"quantitative","scale":{"domain":[0,6],"nice":false,"zero":false},"axis":{"values":[2,4,6],"title":"Activation (AU)","titlePadding":7,"offset":-54}},"y2":{"datum":6}}},
{"data":{"values":[{"t":-200},{"t":-100},{"t":100},{"t":200},{"t":300}]},"mark":{"type":"rule","color":"#dadada","strokeWidth":1.5},"encoding":{"x":{"field":"t","type":"quantitative"}}},
{"data":{"values":[{}]},"mark":{"type":"rule","color":"#333","strokeDash":[4,3],"strokeWidth":1},"encoding":{"x":{"datum":0,"type":"quantitative"}}},
{"data":{"name":"insB"},"mark":{"type":"line","strokeWidth":1.3},"encoding":{"x":{"field":"t","type":"quantitative"},"y":{"field":"v","type":"quantitative"},"color":{"field":"c","type":"nominal","scale":{"domain":["Pulse only (lh)","Pulse only (rh)","Gap + Pulse (lh)","Gap + Pulse (rh)"],"range":["#2f7dbd","#d83a34","#2f7dbd","#d83a34"]},"legend":{"orient":"none","legendX":246,"legendY":-3,"title":null,"symbolType":"stroke","symbolSize":150,"symbolStrokeWidth":1.5,"labelFontSize":8,"labelFontStyle":"italic","rowPadding":0,"labelOffset":5,"padding":0}},"strokeDash":{"field":"c","type":"nominal","scale":{"domain":["Pulse only (lh)","Pulse only (rh)","Gap + Pulse (lh)","Gap + Pulse (rh)"],"range":[[1,0],[1,0],[4,2],[4,2]]},"legend":{"orient":"none","legendX":246,"legendY":-3,"title":null,"symbolType":"stroke","symbolSize":150,"symbolStrokeWidth":1.5,"labelFontSize":8,"labelFontStyle":"italic","rowPadding":0,"labelOffset":5,"padding":0}}}},
{"data":{"values":[{}]},"mark":{"type":"rect","filled":false,"color":"#84bd2d","strokeWidth":2,"strokeDash":[8,5]},"encoding":{"x":{"datum":-415,"type":"quantitative"},"x2":{"datum":429},"y":{"datum":-1.86,"type":"quantitative"},"y2":{"datum":7.26}}},
{"data":{"values":[{}]},"mark":{"type":"rule","color":"#84bd2d","strokeWidth":1.5,"strokeDash":[1.5,2.5]},"encoding":{"x":{"datum":-415,"type":"quantitative"},"x2":{"datum":209},"y":{"datum":7.26,"type":"quantitative"},"y2":{"datum":10.64}}},
{"data":{"values":[{}]},"mark":{"type":"rule","color":"#84bd2d","strokeWidth":1.5,"strokeDash":[1.5,2.5]},"encoding":{"x":{"datum":429,"type":"quantitative"},"x2":{"datum":412},"y":{"datum":7.26,"type":"quantitative"},"y2":{"datum":10.64}}}
]},
{"width":190,"height":119,"title":{"text":"c","dx":-52,"offset":-9},
"resolve":{"scale":{"xOffset":"independent"}},
"layer":[
{"data":{"values":[{}]},"mark":{"type":"rule","color":"#b5b5b5","strokeDash":[2,2],"strokeWidth":1},"encoding":{"y":{"datum":50,"type":"quantitative","scale":{"domain":[-50,100],"nice":false,"zero":false},"axis":{"values":[-50,0,50,100],"title":"EOG inhibition (%)","titlePadding":10}}}},
{"data":{"values":[{}]},"mark":{"type":"rule","color":"#333","strokeDash":[6,4],"strokeWidth":1.5},"encoding":{"y":{"datum":0,"type":"quantitative"}}},
{"data":{"name":"boxC"},"mark":{"type":"bar","filled":false,"color":"#8a8a8a","strokeWidth":2,"width":{"band":0.5}},"encoding":{"x":{"field":"isi","type":"nominal","scale":{"type":"band","domain":["0","60","120","240"],"paddingInner":0,"paddingOuter":0.2},"axis":{"title":"Inter stimulus interval (ms)","labelAngle":0,"ticks":false,"labelPadding":6,"titlePadding":6}},"y":{"field":"q1","type":"quantitative"},"y2":{"field":"q3"}}},
{"data":{"name":"boxC"},"mark":{"type":"rule","color":"#8a8a8a","strokeWidth":2},"encoding":{"x":{"field":"isi","type":"nominal"},"y":{"field":"lo","type":"quantitative"},"y2":{"field":"q1"}}},
{"data":{"name":"boxC"},"mark":{"type":"rule","color":"#8a8a8a","strokeWidth":2},"encoding":{"x":{"field":"isi","type":"nominal"},"y":{"field":"q3","type":"quantitative"},"y2":{"field":"hi"}}},
{"data":{"name":"boxC"},"mark":{"type":"tick","color":"#8a8a8a","thickness":2,"size":13},"encoding":{"x":{"field":"isi","type":"nominal"},"y":{"field":"lo","type":"quantitative"}}},
{"data":{"name":"boxC"},"mark":{"type":"tick","color":"#8a8a8a","thickness":2,"size":13},"encoding":{"x":{"field":"isi","type":"nominal"},"y":{"field":"hi","type":"quantitative"}}},
{"data":{"name":"boxC"},"mark":{"type":"tick","color":"#8a8a8a","thickness":2,"size":22},"encoding":{"x":{"field":"isi","type":"nominal"},"y":{"field":"med","type":"quantitative"}}},
{"data":{"name":"ptsC"},"mark":{"type":"circle","size":7,"color":"#8a8a8a","opacity":0.9},"encoding":{"x":{"field":"isi","type":"nominal"},"xOffset":{"field":"k","type":"quantitative","scale":{"domain":[0,18],"range":[13,30]}},"y":{"field":"v","type":"quantitative"}}},
{"data":{"values":[{}]},"mark":{"type":"text","text":"70 dB noise carrier","fontStyle":"italic","fontWeight":"bold","fontSize":10,"dx":-3,"color":"#111"},"encoding":{"x":{"datum":"120","type":"nominal","bandPosition":0},"y":{"datum":120,"type":"quantitative"}}}
]},
{"width":333,"height":119,"title":{"text":"d","dx":-47,"offset":-11},
"resolve":{"scale":{"xOffset":"independent"}},
"layer":[
{"data":{"values":[{}]},"mark":{"type":"rule","color":"#b5b5b5","strokeDash":[2,2],"strokeWidth":1},"encoding":{"y":{"datum":50,"type":"quantitative","scale":{"domain":[-50,100],"nice":false,"zero":false},"axis":{"values":[-50,0,50,100],"title":"Inhibition index (%)","titlePadding":10}}}},
{"data":{"values":[{}]},"mark":{"type":"rule","color":"#333","strokeDash":[6,4],"strokeWidth":1.5},"encoding":{"y":{"datum":0,"type":"quantitative"}}},
{"data":{"name":"boxD"},"mark":{"type":"rule","strokeWidth":2},"encoding":{"x":{"field":"isi","type":"nominal","scale":{"type":"band","domain":["0","60","120","240"],"paddingInner":0.2,"paddingOuter":0.38},"axis":{"title":"Inter stimulus interval (ms)","labelAngle":0,"ticks":false,"labelPadding":6,"titlePadding":6}},"xOffset":{"field":"hemi","type":"nominal","scale":{"domain":["lh","rh"],"paddingInner":0.07,"paddingOuter":0}},"y":{"field":"lo","type":"quantitative"},"y2":{"field":"q1"},"color":{"field":"hemi","type":"nominal","scale":{"domain":["lh","rh"],"range":["#2f7dbd","#d83a34"]},"legend":{"orient":"none","legendX":247,"legendY":-29,"title":null,"symbolType":"M-13,-4H13V4H-13Z","symbolSize":4,"symbolStrokeWidth":1.8,"symbolFillColor":"white","labelFontStyle":"italic","labelFontSize":10,"rowPadding":-6,"labelOffset":9,"padding":0,"labelLimit":200,"labelExpr":"'transversetemporal-' + datum.label"}}}},
{"data":{"name":"boxD"},"mark":{"type":"bar","filled":false,"strokeWidth":2,"width":{"band":0.95}},"encoding":{"x":{"field":"isi","type":"nominal"},"xOffset":{"field":"hemi","type":"nominal","scale":{"domain":["lh","rh"],"paddingInner":0.07,"paddingOuter":0}},"y":{"field":"q1","type":"quantitative"},"y2":{"field":"q3"},"stroke":{"field":"hemi","type":"nominal","scale":{"domain":["lh","rh"],"range":["#2f7dbd","#d83a34"]},"legend":null}}},
{"data":{"name":"boxD"},"mark":{"type":"rule","strokeWidth":2},"encoding":{"x":{"field":"isi","type":"nominal"},"xOffset":{"field":"hemi","type":"nominal","scale":{"domain":["lh","rh"],"paddingInner":0.07,"paddingOuter":0}},"y":{"field":"q3","type":"quantitative"},"y2":{"field":"hi"},"color":{"field":"hemi","type":"nominal"}}},
{"data":{"name":"boxD"},"mark":{"type":"tick","thickness":2,"size":18},"encoding":{"x":{"field":"isi","type":"nominal"},"xOffset":{"field":"hemi","type":"nominal","scale":{"domain":["lh","rh"],"paddingInner":0.07,"paddingOuter":0}},"y":{"field":"lo","type":"quantitative"},"color":{"field":"hemi","type":"nominal"}}},
{"data":{"name":"boxD"},"mark":{"type":"tick","thickness":2,"size":18},"encoding":{"x":{"field":"isi","type":"nominal"},"xOffset":{"field":"hemi","type":"nominal","scale":{"domain":["lh","rh"],"paddingInner":0.07,"paddingOuter":0}},"y":{"field":"hi","type":"quantitative"},"color":{"field":"hemi","type":"nominal"}}},
{"data":{"name":"boxD"},"mark":{"type":"tick","thickness":2,"size":27},"encoding":{"x":{"field":"isi","type":"nominal"},"xOffset":{"field":"hemi","type":"nominal","scale":{"domain":["lh","rh"],"paddingInner":0.07,"paddingOuter":0}},"y":{"field":"med","type":"quantitative"},"color":{"field":"hemi","type":"nominal"}}},
{"data":{"name":"ptsD"},"transform":[{"filter":"datum.hemi == 'lh'"}],"mark":{"type":"circle","size":7,"opacity":0.9},"encoding":{"x":{"field":"isi","type":"nominal"},"xOffset":{"field":"k","type":"quantitative","scale":{"domain":[0,18],"range":[6,23]}},"y":{"field":"v","type":"quantitative"},"color":{"field":"hemi","type":"nominal"}}},
{"data":{"name":"ptsD"},"transform":[{"filter":"datum.hemi == 'rh'"}],"mark":{"type":"circle","size":7,"opacity":0.9},"encoding":{"x":{"field":"isi","type":"nominal"},"xOffset":{"field":"k","type":"quantitative","scale":{"domain":[0,18],"range":[36,53]}},"y":{"field":"v","type":"quantitative"},"color":{"field":"hemi","type":"nominal"}}},
{"data":{"name":"outD"},"mark":{"type":"point","shape":"circle","filled":false,"size":18,"strokeWidth":1},"encoding":{"x":{"field":"isi","type":"nominal"},"xOffset":{"field":"hemi","type":"nominal","scale":{"domain":["lh","rh"],"paddingInner":0.07,"paddingOuter":0}},"y":{"field":"v","type":"quantitative"},"color":{"field":"hemi","type":"nominal"}}},
{"data":{"values":[{}]},"mark":{"type":"text","text":"70 dB noise carrier","fontStyle":"italic","fontWeight":"bold","fontSize":10,"dx":-4,"color":"#111"},"encoding":{"x":{"datum":"120","type":"nominal","bandPosition":0},"y":{"datum":121,"type":"quantitative"}}}
]}
]
}
